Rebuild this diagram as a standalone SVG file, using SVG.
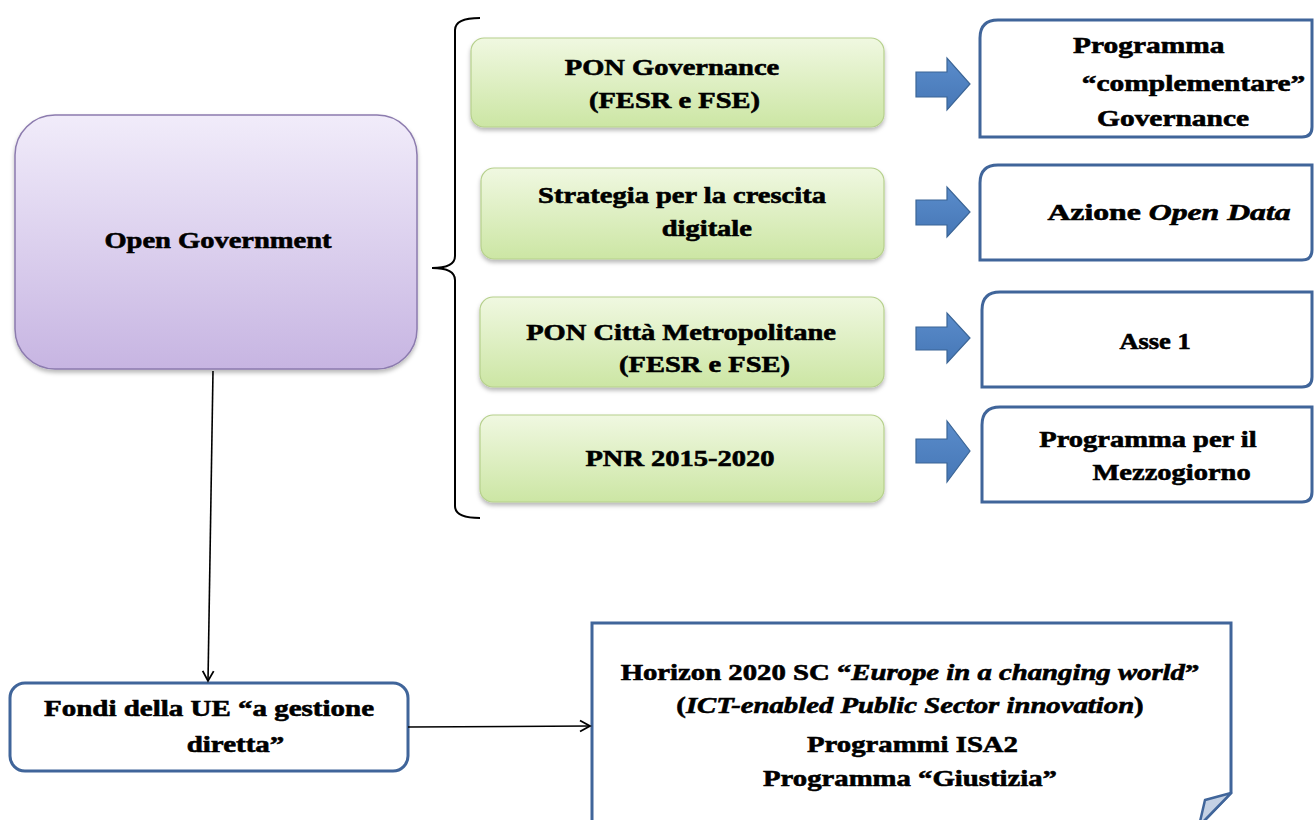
<svg xmlns="http://www.w3.org/2000/svg" width="1314" height="820" viewBox="0 0 1314 820">
<defs>
<linearGradient id="gPurple" x1="0" y1="0" x2="0" y2="1">
<stop offset="0" stop-color="#f1ecfa"/>
<stop offset="1" stop-color="#c7b5e2"/>
</linearGradient>
<linearGradient id="gGreen" x1="0" y1="0" x2="0" y2="1">
<stop offset="0" stop-color="#f0f8e1"/>
<stop offset="1" stop-color="#cce6a4"/>
</linearGradient>
<linearGradient id="gArrow" x1="0" y1="0" x2="0" y2="1">
<stop offset="0" stop-color="#5a8ccb"/>
<stop offset="1" stop-color="#4677b6"/>
</linearGradient>
<filter id="shadow" x="-10%" y="-10%" width="120%" height="130%">
<feDropShadow dx="0" dy="3" stdDeviation="2" flood-color="#000" flood-opacity="0.28"/>
</filter>
<marker id="open" markerUnits="userSpaceOnUse" markerWidth="14" markerHeight="14" viewBox="0 0 14 14" refX="12" refY="7" orient="auto">
<path d="M2,1.5 L12,7 L2,12.5" fill="none" stroke="#000" stroke-width="1.8"/>
</marker>
<style>
.t{font-family:"Liberation Serif","Times New Roman",serif;font-weight:bold;font-size:23px;fill:#000;stroke:#000;stroke-width:0.6;text-anchor:middle}
.i{font-style:italic}
.purple{fill:url(#gPurple);stroke:#8c7bae;stroke-width:1.5;filter:url(#shadow)}
.green{fill:url(#gGreen);stroke:#b6d08c;stroke-width:1.2;filter:url(#shadow)}
.blue{fill:#fff;stroke:#40659a;stroke-width:3}
.barrow{fill:url(#gArrow);stroke:#3b6596;stroke-width:1.2}
.conn{fill:none;stroke:#000;stroke-width:1.6}
</style>
</defs>
<rect width="1314" height="820" fill="#fff"/>

<g id="open-government">
<rect class="purple" x="15" y="115" width="402" height="254" rx="40" ry="40"/>
<text class="t" transform="translate(218,0) scale(1.24,1)"><tspan x="0" y="248">Open Government</tspan></text>
</g>

<g id="brace">
<path d="M480,18 Q455,18 455,30 L455,256 Q455,268 432,268 Q455,268 455,280 L455,506 Q455,518 480,518" fill="none" stroke="#000" stroke-width="2"/>
</g>

<g id="pon-governance">
<rect class="green" x="471" y="38" width="413" height="89" rx="13"/>
<text class="t" transform="translate(672,0) scale(1.24,1)"><tspan x="0" y="75">PON Governance</tspan><tspan x="2" y="108">(FESR e FSE)</tspan></text>
</g>

<g id="strategia">
<rect class="green" x="481" y="168" width="403" height="91" rx="13"/>
<text class="t" transform="translate(682,0) scale(1.24,1)"><tspan x="0" y="203">Strategia per la crescita</tspan><tspan x="20" y="236">digitale</tspan></text>
</g>

<g id="pon-citta">
<rect class="green" x="480" y="297" width="404" height="90" rx="13"/>
<text class="t" transform="translate(681,0) scale(1.24,1)"><tspan x="0" y="340">PON Città Metropolitane</tspan><tspan x="19" y="372">(FESR e FSE)</tspan></text>
</g>

<g id="pnr">
<rect class="green" x="480" y="415" width="404" height="87" rx="13"/>
<text class="t" transform="translate(680,0) scale(1.24,1)"><tspan x="0" y="466">PNR 2015-2020</tspan></text>
</g>

<g id="block-arrows">
<polygon class="barrow" points="916,72 947,72 947,58 970,84 947,110 947,97 916,97"/>
<polygon class="barrow" points="916,200 947,200 947,187 970,212 947,237 947,225 916,225"/>
<polygon class="barrow" points="916,327 947,327 947,313 970,338 947,363 947,350 916,350"/>
<polygon class="barrow" points="916,439 947,439 947,421 970,451 947,482 947,463 916,463"/>
</g>

<g id="programma-complementare">
<path class="blue" d="M980,137 L980,38 Q980,20 998,20 L1312,20 L1312,127 Q1312,137 1302,137 Z"/>
<text class="t" transform="translate(1150,0) scale(1.28,1)"><tspan x="-1" y="53">Programma</tspan><tspan x="34" y="91">“complementare”</tspan><tspan x="18" y="126">Governance</tspan></text>
</g>

<g id="azione-open-data">
<path class="blue" d="M980,260 L980,183 Q980,165 998,165 L1312,165 L1312,250 Q1312,260 1302,260 Z"/>
<text class="t" transform="translate(1169,0) scale(1.38,1)"><tspan x="0" y="220">Azione <tspan class="i">Open Data</tspan></tspan></text>
</g>

<g id="asse-1">
<path class="blue" d="M982,387 L982,310 Q982,292 1000,292 L1312,292 L1312,377 Q1312,387 1302,387 Z"/>
<text class="t" transform="translate(1155,0) scale(1.15,1)"><tspan x="0" y="349">Asse 1</tspan></text>
</g>

<g id="mezzogiorno">
<path class="blue" d="M982,502 L982,425 Q982,407 1000,407 L1312,407 L1312,492 Q1312,502 1302,502 Z"/>
<text class="t" transform="translate(1148,0) scale(1.24,1)"><tspan x="0" y="447">Programma per il</tspan><tspan x="19" y="480">Mezzogiorno</tspan></text>
</g>

<g id="fondi-ue">
<rect class="blue" x="10" y="683" width="398" height="88" rx="15"/>
<text class="t" transform="translate(209,0) scale(1.26,1)"><tspan x="0" y="716">Fondi della UE “a gestione</tspan><tspan x="21" y="752">diretta”</tspan></text>
</g>

<g id="horizon">
<path class="blue" d="M592,830 L592,623 L1231,623 L1231,793 L1199,826"/>
<path d="M1231,793 L1205,800 L1199,826 Z" fill="#c4d1e4" stroke="#40659a" stroke-width="2.5" stroke-linejoin="round"/>
<text class="t" transform="translate(910,0) scale(1.25,1)"><tspan x="0" y="680">Horizon 2020 SC “<tspan class="i">Europe in a changing world</tspan>”</tspan><tspan x="0" y="713">(<tspan class="i">ICT-enabled Public Sector innovation</tspan>)</tspan><tspan x="2" y="752">Programmi ISA2</tspan><tspan x="0" y="786">Programma “Giustizia”</tspan></text>
</g>

<g id="connectors">
<path class="conn" d="M213,371 L208,681" marker-end="url(#open)"/>
<path class="conn" d="M408,727 L590,726" marker-end="url(#open)"/>
</g>
</svg>
